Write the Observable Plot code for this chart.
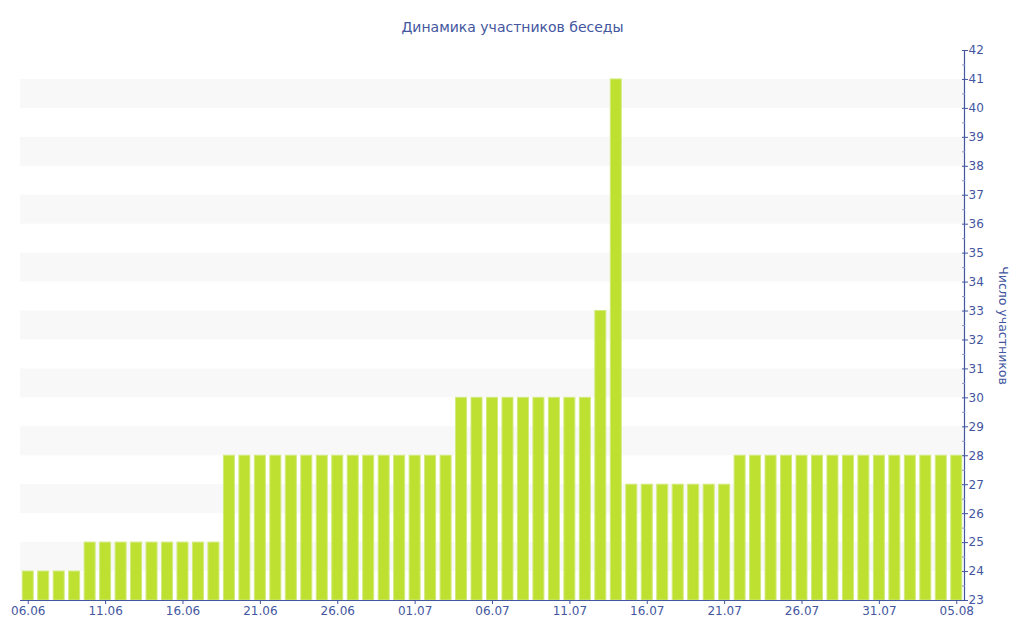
<!DOCTYPE html>
<html>
<head>
<meta charset="utf-8">
<script src="https://cdn.jsdelivr.net/npm/d3@7"></script>
<script src="https://cdn.jsdelivr.net/npm/@observablehq/plot@0.6"></script>
<style>
  html, body { margin: 0; padding: 0; background: #fff; }
</style>
</head>
<body>
<div id="chart"></div>
<script>
const title = "Динамика участников беседы";
const yLabel = "Число участников";

const dates = [
  "06.06","07.06","08.06","09.06","10.06","11.06","12.06","13.06","14.06","15.06",
  "16.06","17.06","18.06","19.06","20.06","21.06","22.06","23.06","24.06","25.06",
  "26.06","27.06","28.06","29.06","30.06","01.07","02.07","03.07","04.07","05.07",
  "06.07","07.07","08.07","09.07","10.07","11.07","12.07","13.07","14.07","15.07",
  "16.07","17.07","18.07","19.07","20.07","21.07","22.07","23.07","24.07","25.07",
  "26.07","27.07","28.07","29.07","30.07","31.07","01.08","02.08","03.08","04.08",
  "05.08"
];
const members = [
  24,24,24,24,25,25,25,25,25,25,
  25,25,25,28,28,28,28,28,28,28,
  28,28,28,28,28,28,28,28,30,30,
  30,30,30,30,30,30,30,33,41,27,
  27,27,27,27,27,27,28,28,28,28,
  28,28,28,28,28,28,28,28,28,28,
  28
];
const xTicks = ["06.06","11.06","16.06","21.06","26.06","01.07","06.07","11.07","16.07","21.07","26.07","31.07","05.08"];
const yTicks = [23,24,25,26,27,28,29,30,31,32,33,34,35,36,37,38,39,40,41,42];
const yMinor = [23.5,24.5,25.5,26.5,27.5,28.5,29.5,30.5,31.5,32.5,33.5,34.5,35.5,36.5,37.5,38.5,39.5,40.5,41.5];
const stripes = [24,26,28,30,32,34,36,38,40];

const data = dates.map((d, i) => ({date: d, value: members[i]}));
const ink = "#4356a0";

const chart = Plot.plot({
  width: 1024,
  height: 640,
  marginLeft: 20,
  marginRight: 60,
  marginTop: 50,
  marginBottom: 40,
  style: {fontFamily: "'DejaVu Sans', Verdana, sans-serif", fontSize: "12px", color: ink, background: "#fff"},
  x: {type: "band", domain: dates, paddingInner: 0.29, paddingOuter: 0.145, round: false, axis: null, label: null},
  y: {type: "linear", domain: [23, 42], axis: null, label: null},
  marks: [
    Plot.barY(stripes, {y1: d => d, y2: d => d + 1, fill: "#f8f8f8"}),
    Plot.barY(data, {x: "date", y1: 23, y2: "value", fill: "#bde031", stroke: "#d2ea7c", strokeWidth: 1}),
    Plot.ruleY([23], {stroke: ink, strokeWidth: 1.2}),
    Plot.frame({anchor: "right", stroke: ink, strokeWidth: 1.2}),
    Plot.axisX(xTicks, {anchor: "bottom", label: null, tickSize: 4, tickPadding: 2, stroke: ink, fill: ink, fontSize: 12}),
    Plot.axisY(yTicks, {anchor: "right", label: null, tickSize: 3, tickPadding: 1, stroke: ink, fill: ink, fontSize: 12}),
    Plot.axisY(yTicks, {anchor: "right", label: null, tickSize: -3, text: null, stroke: ink}),
    Plot.axisY(yMinor, {anchor: "right", label: null, tickSize: -3, text: null, stroke: "#8b96c4"}),
    Plot.text([title], {frameAnchor: "top", dx: 20, dy: -28, fill: ink, fontSize: 14}),
    Plot.text([yLabel], {frameAnchor: "right", textAnchor: "middle", dx: 38, rotate: 90, fill: ink, fontSize: 12.5})
  ]
});
document.getElementById("chart").appendChild(chart);
</script>
</body>
</html>
